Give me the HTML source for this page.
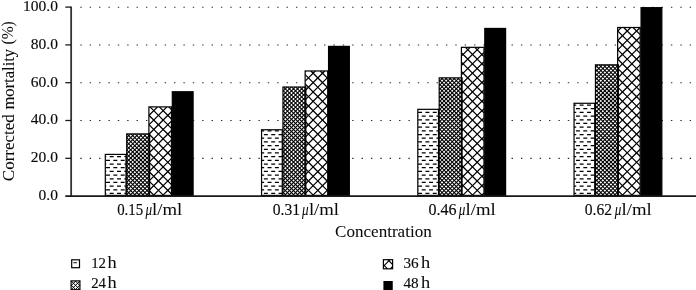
<!DOCTYPE html>
<html lang="en"><head><meta charset="utf-8"><title>Corrected mortality chart</title>
<style>html,body{margin:0;padding:0;background:#fff}body{width:696px;height:290px;overflow:hidden}svg{display:block}text{font-family:"Liberation Serif",serif;fill:#0a0a0a;stroke:#0a0a0a;stroke-width:0.15px}</style>
</head><body>
<svg width="696" height="290" viewBox="0 0 696 290">
<defs>
<clipPath id="c0"><rect x="105.3" y="154.41" width="20.7" height="40.99"/><rect x="261.55" y="129.74" width="20.7" height="65.66"/><rect x="417.8" y="109.33" width="20.7" height="86.07"/><rect x="574.05" y="103.28" width="20.7" height="92.12"/></clipPath>
<clipPath id="c1"><rect x="126.7" y="133.9" width="22.9" height="61.5"/><rect x="282.95" y="87.03" width="22.9" height="108.37"/><rect x="439.2" y="77.86" width="22.9" height="117.54"/><rect x="595.45" y="64.82" width="22.9" height="130.58"/></clipPath>
<clipPath id="c2"><rect x="148.9" y="106.88" width="22.55" height="88.53"/><rect x="305.15" y="70.97" width="22.55" height="124.44"/><rect x="461.4" y="47.34" width="22.55" height="148.06"/><rect x="617.65" y="27.49" width="22.55" height="167.91"/></clipPath>
</defs>
<rect width="696" height="290" fill="#fff"/>
<line x1="80.3" y1="158.35" x2="696" y2="158.35" stroke="#2a2a2a" stroke-width="1.05" stroke-dasharray="1.4 7.975"/>
<line x1="80.3" y1="120.55" x2="696" y2="120.55" stroke="#2a2a2a" stroke-width="1.05" stroke-dasharray="1.4 7.975"/>
<line x1="80.3" y1="82.75" x2="696" y2="82.75" stroke="#2a2a2a" stroke-width="1.05" stroke-dasharray="1.4 7.975"/>
<line x1="80.3" y1="44.95" x2="696" y2="44.95" stroke="#2a2a2a" stroke-width="1.05" stroke-dasharray="1.4 7.975"/>
<line x1="80.3" y1="7.15" x2="696" y2="7.15" stroke="#2a2a2a" stroke-width="1.05" stroke-dasharray="1.4 7.975"/>
<rect x="105.3" y="154.41" width="20.7" height="40.99" fill="#fff"/>
<rect x="261.55" y="129.74" width="20.7" height="65.66" fill="#fff"/>
<rect x="417.8" y="109.33" width="20.7" height="86.07" fill="#fff"/>
<rect x="574.05" y="103.28" width="20.7" height="92.12" fill="#fff"/>
<rect x="126.7" y="133.9" width="22.9" height="61.5" fill="#fff"/>
<rect x="282.95" y="87.03" width="22.9" height="108.37" fill="#fff"/>
<rect x="439.2" y="77.86" width="22.9" height="117.54" fill="#fff"/>
<rect x="595.45" y="64.82" width="22.9" height="130.58" fill="#fff"/>
<rect x="148.9" y="106.88" width="22.55" height="88.53" fill="#fff"/>
<rect x="305.15" y="70.97" width="22.55" height="124.44" fill="#fff"/>
<rect x="461.4" y="47.34" width="22.55" height="148.06" fill="#fff"/>
<rect x="617.65" y="27.49" width="22.55" height="167.91" fill="#fff"/>
<path clip-path="url(#c0)" d="M105.3 156.64H106.3M109.67 156.64H113.64M117.01 156.64H120.99M124.36 156.64H126M106 160.32H109.97M113.34 160.32H117.31M120.69 160.32H124.66M105.3 164H106.3M109.67 164H113.64M117.01 164H120.99M124.36 164H126M106 167.69H109.97M113.34 167.69H117.31M120.69 167.69H124.66M105.3 171.38H106.3M109.67 171.38H113.64M117.01 171.38H120.99M124.36 171.38H126M106 175.06H109.97M113.34 175.06H117.31M120.69 175.06H124.66M105.3 178.75H106.3M109.67 178.75H113.64M117.01 178.75H120.99M124.36 178.75H126M106 182.43H109.97M113.34 182.43H117.31M120.69 182.43H124.66M105.3 186.12H106.3M109.67 186.12H113.64M117.01 186.12H120.99M124.36 186.12H126M106 189.8H109.97M113.34 189.8H117.31M120.69 189.8H124.66M105.3 193.49H106.3M109.67 193.49H113.64M117.01 193.49H120.99M124.36 193.49H126M261.55 130.84H264.17M267.55 130.84H271.52M274.89 130.84H278.86M263.87 134.53H267.85M271.22 134.53H275.19M278.56 134.53H282.25M261.55 138.21H264.17M267.55 138.21H271.52M274.89 138.21H278.86M263.87 141.9H267.85M271.22 141.9H275.19M278.56 141.9H282.25M261.55 145.58H264.17M267.55 145.58H271.52M274.89 145.58H278.86M263.87 149.27H267.85M271.22 149.27H275.19M278.56 149.27H282.25M261.55 152.95H264.17M267.55 152.95H271.52M274.89 152.95H278.86M263.87 156.64H267.85M271.22 156.64H275.19M278.56 156.64H282.25M261.55 160.32H264.17M267.55 160.32H271.52M274.89 160.32H278.86M263.87 164H267.85M271.22 164H275.19M278.56 164H282.25M261.55 167.69H264.17M267.55 167.69H271.52M274.89 167.69H278.86M263.87 171.38H267.85M271.22 171.38H275.19M278.56 171.38H282.25M261.55 175.06H264.17M267.55 175.06H271.52M274.89 175.06H278.86M263.87 178.75H267.85M271.22 178.75H275.19M278.56 178.75H282.25M261.55 182.43H264.17M267.55 182.43H271.52M274.89 182.43H278.86M263.87 186.12H267.85M271.22 186.12H275.19M278.56 186.12H282.25M261.55 189.8H264.17M267.55 189.8H271.52M274.89 189.8H278.86M263.87 193.49H267.85M271.22 193.49H275.19M278.56 193.49H282.25M418.08 112.42H422.05M425.42 112.42H429.39M432.76 112.42H436.73M417.8 116.1H418.38M421.75 116.1H425.72M429.09 116.1H433.06M436.44 116.1H438.5M418.08 119.79H422.05M425.42 119.79H429.39M432.76 119.79H436.73M417.8 123.47H418.38M421.75 123.47H425.72M429.09 123.47H433.06M436.44 123.47H438.5M418.08 127.16H422.05M425.42 127.16H429.39M432.76 127.16H436.73M417.8 130.84H418.38M421.75 130.84H425.72M429.09 130.84H433.06M436.44 130.84H438.5M418.08 134.53H422.05M425.42 134.53H429.39M432.76 134.53H436.73M417.8 138.21H418.38M421.75 138.21H425.72M429.09 138.21H433.06M436.44 138.21H438.5M418.08 141.9H422.05M425.42 141.9H429.39M432.76 141.9H436.73M417.8 145.58H418.38M421.75 145.58H425.72M429.09 145.58H433.06M436.44 145.58H438.5M418.08 149.27H422.05M425.42 149.27H429.39M432.76 149.27H436.73M417.8 152.95H418.38M421.75 152.95H425.72M429.09 152.95H433.06M436.44 152.95H438.5M418.08 156.64H422.05M425.42 156.64H429.39M432.76 156.64H436.73M417.8 160.32H418.38M421.75 160.32H425.72M429.09 160.32H433.06M436.44 160.32H438.5M418.08 164H422.05M425.42 164H429.39M432.76 164H436.73M417.8 167.69H418.38M421.75 167.69H425.72M429.09 167.69H433.06M436.44 167.69H438.5M418.08 171.38H422.05M425.42 171.38H429.39M432.76 171.38H436.73M417.8 175.06H418.38M421.75 175.06H425.72M429.09 175.06H433.06M436.44 175.06H438.5M418.08 178.75H422.05M425.42 178.75H429.39M432.76 178.75H436.73M417.8 182.43H418.38M421.75 182.43H425.72M429.09 182.43H433.06M436.44 182.43H438.5M418.08 186.12H422.05M425.42 186.12H429.39M432.76 186.12H436.73M417.8 189.8H418.38M421.75 189.8H425.72M429.09 189.8H433.06M436.44 189.8H438.5M418.08 193.49H422.05M425.42 193.49H429.39M432.76 193.49H436.73M574.05 105.05H576.25M579.62 105.05H583.6M586.97 105.05H590.94M594.31 105.05H594.75M575.95 108.73H579.92M583.3 108.73H587.27M590.64 108.73H594.61M574.05 112.42H576.25M579.62 112.42H583.6M586.97 112.42H590.94M594.31 112.42H594.75M575.95 116.1H579.92M583.3 116.1H587.27M590.64 116.1H594.61M574.05 119.79H576.25M579.62 119.79H583.6M586.97 119.79H590.94M594.31 119.79H594.75M575.95 123.47H579.92M583.3 123.47H587.27M590.64 123.47H594.61M574.05 127.16H576.25M579.62 127.16H583.6M586.97 127.16H590.94M594.31 127.16H594.75M575.95 130.84H579.92M583.3 130.84H587.27M590.64 130.84H594.61M574.05 134.53H576.25M579.62 134.53H583.6M586.97 134.53H590.94M594.31 134.53H594.75M575.95 138.21H579.92M583.3 138.21H587.27M590.64 138.21H594.61M574.05 141.9H576.25M579.62 141.9H583.6M586.97 141.9H590.94M594.31 141.9H594.75M575.95 145.58H579.92M583.3 145.58H587.27M590.64 145.58H594.61M574.05 149.27H576.25M579.62 149.27H583.6M586.97 149.27H590.94M594.31 149.27H594.75M575.95 152.95H579.92M583.3 152.95H587.27M590.64 152.95H594.61M574.05 156.64H576.25M579.62 156.64H583.6M586.97 156.64H590.94M594.31 156.64H594.75M575.95 160.32H579.92M583.3 160.32H587.27M590.64 160.32H594.61M574.05 164H576.25M579.62 164H583.6M586.97 164H590.94M594.31 164H594.75M575.95 167.69H579.92M583.3 167.69H587.27M590.64 167.69H594.61M574.05 171.38H576.25M579.62 171.38H583.6M586.97 171.38H590.94M594.31 171.38H594.75M575.95 175.06H579.92M583.3 175.06H587.27M590.64 175.06H594.61M574.05 178.75H576.25M579.62 178.75H583.6M586.97 178.75H590.94M594.31 178.75H594.75M575.95 182.43H579.92M583.3 182.43H587.27M590.64 182.43H594.61M574.05 186.12H576.25M579.62 186.12H583.6M586.97 186.12H590.94M594.31 186.12H594.75M575.95 189.8H579.92M583.3 189.8H587.27M590.64 189.8H594.61M574.05 193.49H576.25M579.62 193.49H583.6M586.97 193.49H590.94M594.31 193.49H594.75" stroke="#000" stroke-width="1.25" fill="none"/>
<path clip-path="url(#c1)" d="M126.7 194.69L127.41 195.4M126.7 190.62L131.49 195.4M126.7 186.54L135.56 195.4M126.7 182.47L139.62 195.4M126.7 178.41L143.69 195.4M126.7 174.33L147.76 195.4M126.7 170.26L149.6 193.16M126.7 166.19L149.6 189.09M126.7 162.12L149.6 185.03M126.7 158.06L149.6 180.95M126.7 153.98L149.6 176.88M126.7 149.91L149.6 172.81M126.7 145.84L149.6 168.75M126.7 141.77L149.6 164.68M126.7 137.7L149.6 160.6M126.97 133.9L149.6 156.53M131.04 133.9L149.6 152.47M135.11 133.9L149.6 148.39M139.18 133.9L149.6 144.32M143.25 133.9L149.6 140.25M147.32 133.9L149.6 136.19M282.95 192.2L286.14 195.4M282.95 188.13L290.22 195.4M282.95 184.06L294.29 195.4M282.95 179.99L298.36 195.4M282.95 175.92L302.43 195.4M282.95 171.85L305.85 194.76M282.95 167.78L305.85 190.69M282.95 163.71L305.85 186.62M282.95 159.64L305.85 182.55M282.95 155.57L305.85 178.48M282.95 151.5L305.85 174.41M282.95 147.43L305.85 170.34M282.95 143.36L305.85 166.27M282.95 139.29L305.85 162.2M282.95 135.22L305.85 158.12M282.95 131.15L305.85 154.06M282.95 127.08L305.85 149.99M282.95 123.01L305.85 145.92M282.95 118.94L305.85 141.85M282.95 114.87L305.85 137.78M282.95 110.8L305.85 133.71M282.95 106.73L305.85 129.64M282.95 102.66L305.85 125.56M282.95 98.59L305.85 121.5M282.95 94.52L305.85 117.43M282.95 90.45L305.85 113.36M283.6 87.03L305.85 109.29M287.67 87.03L305.85 105.22M291.74 87.03L305.85 101.15M295.81 87.03L305.85 97.08M299.88 87.03L305.85 93M303.95 87.03L305.85 88.94M439.2 193.79L440.81 195.4M439.2 189.72L444.88 195.4M439.2 185.65L448.95 195.4M439.2 181.58L453.01 195.4M439.2 177.51L457.09 195.4M439.2 173.44L461.15 195.4M439.2 169.38L462.1 192.28M439.2 165.3L462.1 188.2M439.2 161.23L462.1 184.13M439.2 157.16L462.1 180.06M439.2 153.09L462.1 176M439.2 149.02L462.1 171.93M439.2 144.95L462.1 167.86M439.2 140.88L462.1 163.79M439.2 136.81L462.1 159.71M439.2 132.74L462.1 155.64M439.2 128.67L462.1 151.57M439.2 124.6L462.1 147.5M439.2 120.53L462.1 143.44M439.2 116.46L462.1 139.37M439.2 112.39L462.1 135.3M439.2 108.32L462.1 131.23M439.2 104.25L462.1 127.16M439.2 100.18L462.1 123.08M439.2 96.11L462.1 119.01M439.2 92.04L462.1 114.94M439.2 87.97L462.1 110.88M439.2 83.9L462.1 106.81M439.2 79.83L462.1 102.74M441.3 77.86L462.1 98.67M445.37 77.86L462.1 94.59M449.44 77.86L462.1 90.52M453.51 77.86L462.1 86.45M457.58 77.86L462.1 82.38M461.65 77.86L462.1 78.31M595.45 191.31L599.54 195.4M595.45 187.24L603.61 195.4M595.45 183.17L607.68 195.4M595.45 179.1L611.75 195.4M595.45 175.03L615.82 195.4M595.45 170.96L618.35 193.86M595.45 166.89L618.35 189.79M595.45 162.82L618.35 185.72M595.45 158.75L618.35 181.65M595.45 154.68L618.35 177.58M595.45 150.61L618.35 173.51M595.45 146.54L618.35 169.44M595.45 142.47L618.35 165.37M595.45 138.4L618.35 161.3M595.45 134.33L618.35 157.23M595.45 130.26L618.35 153.16M595.45 126.19L618.35 149.09M595.45 122.12L618.35 145.02M595.45 118.05L618.35 140.95M595.45 113.98L618.35 136.88M595.45 109.91L618.35 132.81M595.45 105.84L618.35 128.74M595.45 101.77L618.35 124.67M595.45 97.7L618.35 120.6M595.45 93.63L618.35 116.53M595.45 89.56L618.35 112.46M595.45 85.49L618.35 108.39M595.45 81.42L618.35 104.32M595.45 77.35L618.35 100.25M595.45 73.28L618.35 96.18M595.45 69.21L618.35 92.11M595.45 65.14L618.35 88.04M599.2 64.82L618.35 83.97M603.27 64.82L618.35 79.9M607.34 64.82L618.35 75.83M611.41 64.82L618.35 71.76M615.48 64.82L618.35 67.69" stroke="#000" stroke-width="1.1" fill="none"/>
<path clip-path="url(#c1)" d="M126.7 137.56L130.36 133.9M126.7 141.63L134.43 133.9M126.7 145.7L138.5 133.9M126.7 149.77L142.57 133.9M126.7 153.84L146.64 133.9M126.7 157.92L149.6 135.02M126.7 161.99L149.6 139.09M126.7 166.06L149.6 143.16M126.7 170.12L149.6 147.22M126.7 174.19L149.6 151.29M126.7 178.26L149.6 155.36M126.7 182.33L149.6 159.43M126.7 186.41L149.6 163.51M126.7 190.48L149.6 167.58M126.7 194.55L149.6 171.65M129.91 195.4L149.6 175.72M133.98 195.4L149.6 179.78M138.05 195.4L149.6 183.85M142.12 195.4L149.6 187.92M146.2 195.4L149.6 192M282.95 87.13L283.05 87.03M282.95 91.2L287.12 87.03M282.95 95.28L291.2 87.03M282.95 99.34L295.26 87.03M282.95 103.42L299.34 87.03M282.95 107.49L303.4 87.03M282.95 111.56L305.85 88.65M282.95 115.62L305.85 92.72M282.95 119.69L305.85 96.79M282.95 123.77L305.85 100.87M282.95 127.83L305.85 104.93M282.95 131.91L305.85 109M282.95 135.98L305.85 113.07M282.95 140.05L305.85 117.14M282.95 144.12L305.85 121.21M282.95 148.19L305.85 125.28M282.95 152.25L305.85 129.35M282.95 156.32L305.85 133.42M282.95 160.4L305.85 137.5M282.95 164.46L305.85 141.56M282.95 168.54L305.85 145.63M282.95 172.61L305.85 149.7M282.95 176.68L305.85 153.77M282.95 180.75L305.85 157.84M282.95 184.81L305.85 161.91M282.95 188.89L305.85 165.99M282.95 192.95L305.85 170.05M284.58 195.4L305.85 174.12M288.64 195.4L305.85 178.19M292.72 195.4L305.85 182.26M296.78 195.4L305.85 186.33M300.86 195.4L305.85 190.4M304.92 195.4L305.85 194.47M439.2 81.47L442.81 77.86M439.2 85.55L446.88 77.86M439.2 89.62L450.95 77.86M439.2 93.69L455.02 77.86M439.2 97.75L459.09 77.86M439.2 101.82L462.1 78.92M439.2 105.9L462.1 83M439.2 109.96L462.1 87.06M439.2 114.04L462.1 91.13M439.2 118.11L462.1 95.21M439.2 122.18L462.1 99.27M439.2 126.24L462.1 103.34M439.2 130.31L462.1 107.41M439.2 134.39L462.1 111.49M439.2 138.45L462.1 115.55M439.2 142.53L462.1 119.62M439.2 146.6L462.1 123.7M439.2 150.67L462.1 127.76M439.2 154.73L462.1 131.83M439.2 158.81L462.1 135.9M439.2 162.88L462.1 139.98M439.2 166.94L462.1 144.04M439.2 171.02L462.1 148.12M439.2 175.09L462.1 152.19M439.2 179.16L462.1 156.25M439.2 183.22L462.1 160.32M439.2 187.3L462.1 164.39M439.2 191.37L462.1 168.47M439.24 195.4L462.1 172.53M443.31 195.4L462.1 176.61M447.38 195.4L462.1 180.68M451.45 195.4L462.1 184.75M455.51 195.4L462.1 188.81M459.59 195.4L462.1 192.88M595.45 67.68L598.3 64.82M595.45 71.75L602.37 64.82M595.45 75.82L606.44 64.82M595.45 79.89L610.51 64.82M595.45 83.96L614.58 64.82M595.45 88.03L618.35 65.13M595.45 92.1L618.35 69.2M595.45 96.17L618.35 73.27M595.45 100.24L618.35 77.34M595.45 104.31L618.35 81.41M595.45 108.38L618.35 85.48M595.45 112.45L618.35 89.55M595.45 116.52L618.35 93.62M595.45 120.59L618.35 97.69M595.45 124.66L618.35 101.76M595.45 128.73L618.35 105.83M595.45 132.8L618.35 109.9M595.45 136.87L618.35 113.97M595.45 140.94L618.35 118.04M595.45 145.01L618.35 122.11M595.45 149.08L618.35 126.18M595.45 153.15L618.35 130.25M595.45 157.22L618.35 134.32M595.45 161.29L618.35 138.39M595.45 165.36L618.35 142.46M595.45 169.43L618.35 146.53M595.45 173.5L618.35 150.6M595.45 177.57L618.35 154.67M595.45 181.64L618.35 158.74M595.45 185.71L618.35 162.81M595.45 189.78L618.35 166.88M595.45 193.85L618.35 170.95M597.97 195.4L618.35 175.02M602.04 195.4L618.35 179.09M606.11 195.4L618.35 183.16M610.18 195.4L618.35 187.23M614.25 195.4L618.35 191.3" stroke="#000" stroke-width="1.1" fill="none"/>
<path clip-path="url(#c2)" d="M148.9 190.2L154.1 195.4M148.9 180.82L163.48 195.4M148.9 171.45L171.45 194M148.9 162.07L171.45 184.62M148.9 152.7L171.45 175.25M148.9 143.32L171.45 165.87M148.9 133.95L171.45 156.5M148.9 124.57L171.45 147.12M148.9 115.2L171.45 137.75M149.95 106.88L171.45 128.37M159.33 106.88L171.45 119M168.7 106.88L171.45 109.62M305.15 187.07L313.48 195.4M305.15 177.7L322.85 195.4M305.15 168.32L327.7 190.88M305.15 158.95L327.7 181.5M305.15 149.57L327.7 172.12M305.15 140.2L327.7 162.75M305.15 130.82L327.7 153.38M305.15 121.45L327.7 144M305.15 112.07L327.7 134.62M305.15 102.7L327.7 125.25M305.15 93.32L327.7 115.88M305.15 83.95L327.7 106.5M305.15 74.57L327.7 97.12M310.92 70.97L327.7 87.75M320.29 70.97L327.7 78.38M461.4 193.32L463.48 195.4M461.4 183.95L472.85 195.4M461.4 174.57L482.23 195.4M461.4 165.2L483.95 187.75M461.4 155.82L483.95 178.38M461.4 146.45L483.95 169M461.4 137.07L483.95 159.62M461.4 127.7L483.95 150.25M461.4 118.32L483.95 140.88M461.4 108.95L483.95 131.5M461.4 99.57L483.95 122.12M461.4 90.2L483.95 112.75M461.4 80.82L483.95 103.38M461.4 71.45L483.95 94M461.4 62.07L483.95 84.62M461.4 52.7L483.95 75.25M465.42 47.34L483.95 65.88M474.79 47.34L483.95 56.5M617.65 190.2L622.85 195.4M617.65 180.82L632.23 195.4M617.65 171.45L640.2 194M617.65 162.07L640.2 184.62M617.65 152.7L640.2 175.25M617.65 143.32L640.2 165.87M617.65 133.95L640.2 156.5M617.65 124.57L640.2 147.12M617.65 115.2L640.2 137.75M617.65 105.82L640.2 128.37M617.65 96.45L640.2 119M617.65 87.07L640.2 109.62M617.65 77.7L640.2 100.25M617.65 68.32L640.2 90.87M617.65 58.95L640.2 81.5M617.65 49.57L640.2 72.12M617.65 40.2L640.2 62.75M617.65 30.82L640.2 53.37M623.7 27.5L640.2 44M633.07 27.5L640.2 34.62" stroke="#000" stroke-width="1.25" fill="none"/>
<path clip-path="url(#c2)" d="M148.9 115.55L157.58 106.88M148.9 124.93L166.95 106.88M148.9 134.3L171.45 111.75M148.9 143.68L171.45 121.13M148.9 153.05L171.45 130.5M148.9 162.43L171.45 139.88M148.9 171.8L171.45 149.25M148.9 181.18L171.45 158.63M148.9 190.55L171.45 168M153.43 195.4L171.45 177.38M162.8 195.4L171.45 186.75M305.15 71.8L305.99 70.97M305.15 81.18L315.36 70.97M305.15 90.55L324.74 70.97M305.15 99.93L327.7 77.38M305.15 109.3L327.7 86.75M305.15 118.68L327.7 96.12M305.15 128.05L327.7 105.5M305.15 137.43L327.7 114.88M305.15 146.8L327.7 124.25M305.15 156.18L327.7 133.62M305.15 165.55L327.7 143M305.15 174.93L327.7 152.38M305.15 184.3L327.7 161.75M305.15 193.68L327.7 171.12M312.8 195.4L327.7 180.5M322.18 195.4L327.7 189.88M461.4 56.18L470.24 47.34M461.4 65.55L479.61 47.34M461.4 74.93L483.95 52.38M461.4 84.3L483.95 61.75M461.4 93.68L483.95 71.12M461.4 103.05L483.95 80.5M461.4 112.43L483.95 89.88M461.4 121.8L483.95 99.25M461.4 131.18L483.95 108.62M461.4 140.55L483.95 118M461.4 149.93L483.95 127.38M461.4 159.3L483.95 136.75M461.4 168.68L483.95 146.12M461.4 178.05L483.95 155.5M461.4 187.43L483.95 164.88M462.8 195.4L483.95 174.25M472.18 195.4L483.95 183.62M481.55 195.4L483.95 193M617.65 31.18L621.33 27.5M617.65 40.55L630.71 27.5M617.65 49.93L640.08 27.5M617.65 59.3L640.2 36.75M617.65 68.68L640.2 46.13M617.65 78.05L640.2 55.5M617.65 87.43L640.2 64.88M617.65 96.8L640.2 74.25M617.65 106.18L640.2 83.63M617.65 115.55L640.2 93M617.65 124.93L640.2 102.38M617.65 134.3L640.2 111.75M617.65 143.68L640.2 121.13M617.65 153.05L640.2 130.5M617.65 162.43L640.2 139.88M617.65 171.8L640.2 149.25M617.65 181.18L640.2 158.63M617.65 190.55L640.2 168M622.18 195.4L640.2 177.38M631.55 195.4L640.2 186.75" stroke="#000" stroke-width="1.25" fill="none"/>
<rect x="105.3" y="154.41" width="20.7" height="40.99" fill="none" stroke="#000" stroke-width="1.2"/>
<rect x="261.55" y="129.74" width="20.7" height="65.66" fill="none" stroke="#000" stroke-width="1.2"/>
<rect x="417.8" y="109.33" width="20.7" height="86.07" fill="none" stroke="#000" stroke-width="1.2"/>
<rect x="574.05" y="103.28" width="20.7" height="92.12" fill="none" stroke="#000" stroke-width="1.2"/>
<rect x="126.7" y="133.9" width="22.9" height="61.5" fill="none" stroke="#000" stroke-width="1.2"/>
<rect x="282.95" y="87.03" width="22.9" height="108.37" fill="none" stroke="#000" stroke-width="1.2"/>
<rect x="439.2" y="77.86" width="22.9" height="117.54" fill="none" stroke="#000" stroke-width="1.2"/>
<rect x="595.45" y="64.82" width="22.9" height="130.58" fill="none" stroke="#000" stroke-width="1.2"/>
<rect x="148.9" y="106.88" width="22.55" height="88.53" fill="none" stroke="#000" stroke-width="1.2"/>
<rect x="305.15" y="70.97" width="22.55" height="124.44" fill="none" stroke="#000" stroke-width="1.2"/>
<rect x="461.4" y="47.34" width="22.55" height="148.06" fill="none" stroke="#000" stroke-width="1.2"/>
<rect x="617.65" y="27.49" width="22.55" height="167.91" fill="none" stroke="#000" stroke-width="1.2"/>
<rect x="172.3" y="91.75" width="20.8" height="103.65" fill="#000" stroke="#000" stroke-width="1.2"/>
<rect x="328.55" y="46.39" width="20.8" height="149" fill="#000" stroke="#000" stroke-width="1.2"/>
<rect x="484.8" y="28.44" width="20.8" height="166.96" fill="#000" stroke="#000" stroke-width="1.2"/>
<rect x="641.05" y="7.65" width="20.8" height="187.75" fill="#000" stroke="#000" stroke-width="1.2"/>
<path d="M71.15 6.6V196.1" stroke="#333" stroke-width="1.8" fill="none"/>
<path d="M65.3 196.1H696" stroke="#1a1a1a" stroke-width="1.6" fill="none"/>
<path d="M65.3 158.30H71.15" stroke="#1a1a1a" stroke-width="1.3" fill="none"/>
<path d="M65.3 120.50H71.15" stroke="#1a1a1a" stroke-width="1.3" fill="none"/>
<path d="M65.3 82.70H71.15" stroke="#1a1a1a" stroke-width="1.3" fill="none"/>
<path d="M65.3 44.90H71.15" stroke="#1a1a1a" stroke-width="1.3" fill="none"/>
<path d="M65.3 7.10H71.15" stroke="#1a1a1a" stroke-width="1.3" fill="none"/>
<text x="57.9" y="200.00" font-size="15.5" text-anchor="end">0.0</text>
<text x="57.9" y="162.20" font-size="15.5" text-anchor="end">20.0</text>
<text x="57.9" y="124.40" font-size="15.5" text-anchor="end">40.0</text>
<text x="57.9" y="86.60" font-size="15.5" text-anchor="end">60.0</text>
<text x="57.9" y="48.80" font-size="15.5" text-anchor="end">80.0</text>
<text x="57.9" y="11.00" font-size="15.5" text-anchor="end">100.0</text>
<text transform="translate(14 181.2) rotate(-90)" y="0"><tspan x="0" font-size="17" textLength="67.0" lengthAdjust="spacingAndGlyphs" style="stroke-width:0.04px">Corrected</tspan> <tspan x="71.7" font-size="17" textLength="60.6" lengthAdjust="spacingAndGlyphs" style="stroke-width:0.04px">mortality</tspan> <tspan x="136.7" font-size="17" textLength="23.3" lengthAdjust="spacingAndGlyphs" y="-0.8" style="stroke-width:0.04px">(%)</tspan></text>
<text y="214.6"><tspan x="117.15" font-size="16" textLength="26.0" lengthAdjust="spacingAndGlyphs">0.15</tspan>&#8201;<tspan x="145.6" font-size="16.5" textLength="6.6" lengthAdjust="spacingAndGlyphs" font-style="italic" style="stroke-width:0.04px">&#956;</tspan><tspan x="152.1" font-size="17" textLength="30.2" lengthAdjust="spacingAndGlyphs" style="stroke-width:0.04px">l/ml</tspan></text>
<text y="214.6"><tspan x="272.75" font-size="16" textLength="27.3" lengthAdjust="spacingAndGlyphs">0.31</tspan>&#8201;<tspan x="302" font-size="16.5" textLength="6.6" lengthAdjust="spacingAndGlyphs" font-style="italic" style="stroke-width:0.04px">&#956;</tspan><tspan x="308.9" font-size="17" textLength="30.2" lengthAdjust="spacingAndGlyphs" style="stroke-width:0.04px">l/ml</tspan></text>
<text y="214.6"><tspan x="428.45" font-size="16" textLength="28.0" lengthAdjust="spacingAndGlyphs">0.46</tspan>&#8201;<tspan x="458.7" font-size="16.5" textLength="6.6" lengthAdjust="spacingAndGlyphs" font-style="italic" style="stroke-width:0.04px">&#956;</tspan><tspan x="465.5" font-size="17" textLength="30.2" lengthAdjust="spacingAndGlyphs" style="stroke-width:0.04px">l/ml</tspan></text>
<text y="214.6"><tspan x="584.75" font-size="16" textLength="27.3" lengthAdjust="spacingAndGlyphs">0.62</tspan>&#8201;<tspan x="614.7" font-size="16.5" textLength="6.6" lengthAdjust="spacingAndGlyphs" font-style="italic" style="stroke-width:0.04px">&#956;</tspan><tspan x="621.5" font-size="17" textLength="30.2" lengthAdjust="spacingAndGlyphs" style="stroke-width:0.04px">l/ml</tspan></text>
<text y="237.2"><tspan x="335.1" font-size="17" textLength="96.6" lengthAdjust="spacingAndGlyphs" style="stroke-width:0.04px">Concentration</tspan></text>
<rect x="71.7" y="259.8" width="7.8" height="7.9" fill="#fff" stroke="#000" stroke-width="1.2"/>
<path d="M73.3 262.7H77.0" stroke="#222" stroke-width="1.1"/>
<path d="M71.1 289.04L71.76 289.7M71.1 284.97L75.83 289.7M71.1 280.9L79.9 289.7M75.17 280.9L79.9 285.63M79.24 280.9L79.9 281.56M71.1 281.63L71.83 280.9M71.1 285.7L75.9 280.9M71.17 289.7L79.9 280.97M75.24 289.7L79.9 285.04M79.31 289.7L79.9 289.11" stroke="#000" stroke-width="1.0" fill="none"/>
<rect x="71.1" y="280.9" width="8.8" height="8.8" fill="none" stroke="#000" stroke-width="1.2"/>
<path d="M383.4 264.68L387.52 268.8M387.8 259.7L392.6 264.5M383.4 266.3L390 259.7M390.28 268.8L392.6 266.48" stroke="#000" stroke-width="1.1" fill="none"/>
<rect x="383.4" y="259.7" width="9.2" height="9.1" fill="none" stroke="#000" stroke-width="1.2"/>
<rect x="383.4" y="281" width="9.35" height="9" fill="#000"/>
<text y="267.9"><tspan x="91.2" font-size="15.5" textLength="14.8" lengthAdjust="spacingAndGlyphs">12</tspan>&#8202;<tspan x="107.5" font-size="17" textLength="9.2" lengthAdjust="spacingAndGlyphs" style="stroke-width:0.04px">h</tspan></text>
<text y="288.3"><tspan x="91.2" font-size="15.5" textLength="14.8" lengthAdjust="spacingAndGlyphs">24</tspan>&#8202;<tspan x="107.5" font-size="17" textLength="9.2" lengthAdjust="spacingAndGlyphs" style="stroke-width:0.04px">h</tspan></text>
<text y="267.9"><tspan x="403.4" font-size="15.5" textLength="15.2" lengthAdjust="spacingAndGlyphs">36</tspan>&#8201;<tspan x="420.9" font-size="17" textLength="9.2" lengthAdjust="spacingAndGlyphs" style="stroke-width:0.04px">h</tspan></text>
<text y="288.3"><tspan x="403.4" font-size="15.5" textLength="15.2" lengthAdjust="spacingAndGlyphs">48</tspan>&#8201;<tspan x="420.9" font-size="17" textLength="9.2" lengthAdjust="spacingAndGlyphs" style="stroke-width:0.04px">h</tspan></text>
</svg>
</body></html>
